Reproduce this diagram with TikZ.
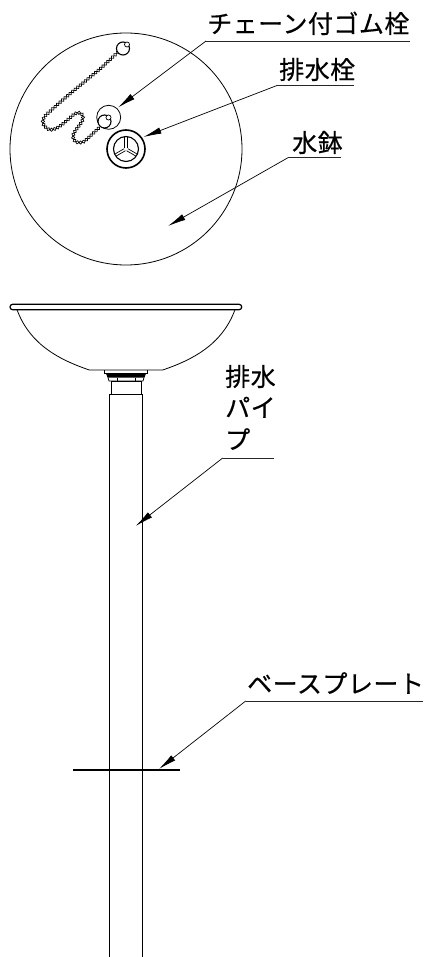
\documentclass[tikz,border=0pt]{standalone}
\usepackage{fontspec}
\usetikzlibrary{decorations.markings,arrows.meta}
\newfontfamily\jpfont[LetterSpace=2,FakeBold=0.5]{Noto Sans CJK JP}
\tikzset{
  outline/.style={draw=black,line width=0.8pt},
  heavy/.style={draw=black,line width=2pt},
  leader/.style={draw=black!85,line width=0.8pt},
  pointer/.style={draw=black,line width=0.7pt,-{Latex[length=18pt,width=6.5pt]}},
  lbl/.style={inner sep=0pt,font=\jpfont\fontsize{25}{25}\selectfont,text=black},
  beads/.style={decoration={markings,mark=between positions 0 and 1 step 3.3pt with {\draw[line width=0.7pt] (0,0) circle (1.6pt);}},decorate}
}
\begin{document}
\begin{tikzpicture}[x=1pt,y=-1pt]
\useasboundingbox (0,0) rectangle (425,957);
% plan view
\node[outline,circle,minimum size=232pt,inner sep=0pt] (bowlplan) at (126,149) {};
\node[outline,circle,minimum size=24pt,inner sep=0pt] (plug) at (108.7,117.3) {};
\path[beads] (117.5,52.5) -- (100,69) -- (72,92) -- (58,104) -- (46,115) .. controls (41,120) and (42,126) .. (49,129.5)
  .. controls (55,131) and (62,125) .. (72,116) .. controls (77,111) and (83,112) .. (83,118)
  .. controls (83,123) and (74,130) .. (73,136) .. controls (73,143) and (80,144) .. (85,141) -- (100,127);
\node[draw=black,line width=1.1pt,fill=white,circle,minimum size=13pt,inner sep=0pt] (plugin) at (104.5,121.5) {};
\node[draw=black,line width=0.7pt,fill=white,circle,minimum size=5pt,inner sep=0pt] (plugeye) at (108.5,117.5) {};
\node[draw=black,line width=1.1pt,fill=white,circle,minimum size=13pt,inner sep=0pt] (ring) at (123,48.5) {};
\node[draw=black,line width=0.7pt,fill=white,circle,minimum size=5pt,inner sep=0pt] (ringeye) at (127,44.5) {};
\node[draw=black,line width=1.6pt,circle,minimum size=38pt,inner sep=0pt] (drain) at (126,149) {};
\node[draw=black,line width=1.1pt,circle,minimum size=25pt,inner sep=0pt] (drainin) at (126,149) {};
\coordinate (hub) at (126,149);
\foreach \a in {-30,90,210}{
  \draw[line width=0.7pt] (hub) ++(\a:1.4pt) ++(\a+90:1.2pt) -- ++(\a:11pt);
  \draw[line width=0.7pt] (hub) ++(\a:1.4pt) ++(\a-90:1.2pt) -- ++(\a:11pt);
}
% labels and leaders
\node[lbl,anchor=base west] (t1) at (207,33) {チェーン付ゴム栓};
\coordinate (u1a) at (206,41); \coordinate (u1b) at (410,41); \coordinate (p1) at (118,107.5);
\draw[leader] (u1b) -- (u1a); \draw[pointer] (u1a) -- (p1);
\node[lbl,anchor=base west] (t2) at (279,79) {排水栓};
\coordinate (u2a) at (277,85.5); \coordinate (u2b) at (354,85.5); \coordinate (p2) at (143.5,137);
\draw[leader] (u2b) -- (u2a); \draw[pointer] (u2a) -- (p2);
\node[lbl,anchor=base west] (t3) at (292,152) {水鉢};
\coordinate (u3a) at (288,157.7); \coordinate (u3b) at (341,157.7); \coordinate (p3) at (168,226);
\draw[leader] (u3b) -- (u3a); \draw[pointer] (u3a) -- (p3);
% elevation
\node[draw=black,line width=1.2pt,rounded corners=2.6pt,minimum width=231.7pt,minimum height=5.4pt,inner sep=0pt] (rim) at (125.85,307) {};
\draw[outline] (17,309.7) .. controls (30,345) and (60,360) .. (89.3,370) -- (162.7,370) .. controls (192,360) and (222,345) .. (235,309.7);
\draw[outline] (104.3,370) -- (104.3,373.5) -- (147.3,373.5) -- (147.3,370);
\fill[black] (106,373.5) -- (146,373.5) -- (144.5,377.5) -- (107.5,377.5) -- cycle;
\draw[outline] (108,377.5) -- (109,381) -- (143,381) -- (144,377.5);
\draw[outline] (117,377.5) -- (117,381) (135,377.5) -- (135,381);
\draw[outline] (111,381) -- (111,394) -- (141,394) -- (141,381);
\draw[line width=1pt] (110.7,381) -- (141.3,381);
\draw[line width=1pt] (109.5,394) -- (142.5,394);
\coordinate (pl1) at (109.5,394); \coordinate (pl2) at (109.5,957);
\coordinate (pr1) at (142.2,394); \coordinate (pr2) at (142.2,957);
\draw[outline] (pl1) -- (pl2); \draw[outline] (pr1) -- (pr2);
\coordinate (ba) at (73,769.5); \coordinate (bb) at (180,769.5);
\draw[heavy] (ba) -- (bb);
\node[lbl,anchor=base west] (t4a) at (225,386) {排水};
\node[lbl,anchor=base west] (t4b) at (225,417) {パイ};
\node[lbl,anchor=base west] (t4c) at (225,449) {プ};
\coordinate (u4a) at (222.7,458); \coordinate (u4b) at (274,458); \coordinate (p4) at (135.7,526);
\draw[leader] (u4b) -- (u4a); \draw[pointer] (u4a) -- (p4);
\node[lbl,anchor=base west] (t5) at (247,693) {ベースプレート};
\coordinate (u5a) at (245.7,701); \coordinate (u5b) at (423,701); \coordinate (p5) at (159,769);
\draw[leader] (u5b) -- (u5a); \draw[pointer] (u5a) -- (p5);
\end{tikzpicture}
\end{document}
